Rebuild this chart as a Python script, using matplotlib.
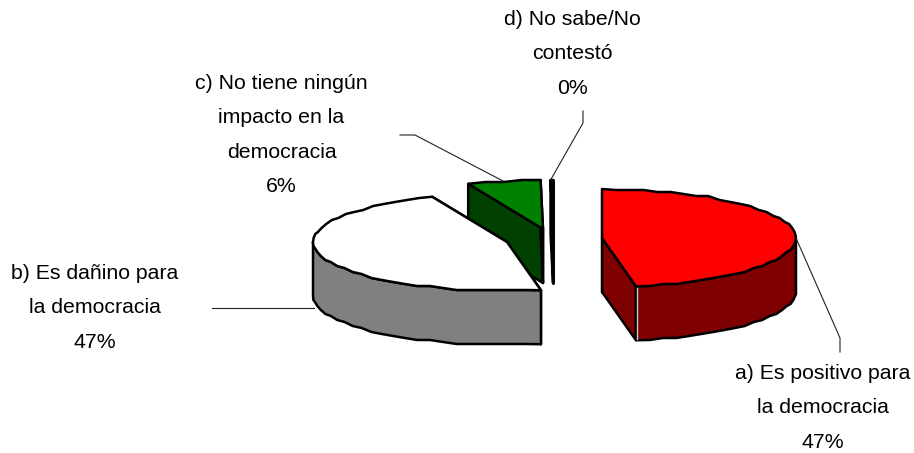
import numpy as np
import matplotlib
matplotlib.use("Agg")
import matplotlib.pyplot as plt

categories = ["a) Es positivo para\nla democracia", "b) Es dañino para\nla democracia",
              "c) No tiene ningún\nimpacto en la\ndemocracia", "d) No sabe/No\ncontestó"]
values = [47.2, 46.5, 6.1, 0.2]
percent_labels = ["47%", "47%", "6%", "0%"]

top_colors = ["#ff0000", "#ffffff", "#008000", "#000000"]
side_colors = ["#7f0000", "#808080", "#004000", "#000000"]
centers = [(602, 238), (507, 242), (543, 229), (553, 229)]
label_pos = [(823, 364), (95, 264), (281.5, 74), (572.5, 10)]
leaders = [[(796, 238), (840, 338), (840, 352)],
           [(212, 308), (314, 308)],
           [(400, 135), (415, 135), (503, 181)],
           [(583, 111), (583, 123), (550, 181)]]
RX, RY, DEPTH = 194, 49, 54

plt.rcParams["font.family"] = ["Liberation Sans", "DejaVu Sans"]
fig = plt.figure(figsize=(9.14, 4.53), dpi=100)
ax = fig.add_axes([0, 0, 1, 1])
ax.set_xlim(0, 914)
ax.set_ylim(453, 0)
ax.axis("off")

fracs = np.array(values) / sum(values)
ends = np.cumsum(fracs) * 2 * np.pi
starts = ends - fracs * 2 * np.pi


def arc(c, a0, a1):
    n = max(2, int((a1 - a0) / 0.07))
    t = np.linspace(a0, a1, n)
    x = c[0] + RX * np.sin(t)
    y = c[1] - RY * np.cos(t)
    # the reference outline is a polygon on a rough grid
    y[1:-1] = np.round(y[1:-1] / 2) * 2
    return x, y, t


def draw_slice(i):
    c = centers[i]
    x, y, t = arc(c, starts[i], ends[i])
    kw = dict(edgecolor="black", linewidth=1.8, joinstyle="round")
    for ex, ey in ((x[0], y[0]), (x[-1], y[-1])):
        ax.fill([c[0], ex, ex, c[0]], [c[1], ey, ey + DEPTH, c[1] + DEPTH],
                facecolor=side_colors[i], **kw)
    front = np.cos(t) <= 0.02
    if front.any():
        fx, fy = x[front], y[front]
        ax.fill(np.r_[fx, fx[::-1]], np.r_[fy, fy[::-1] + DEPTH],
                facecolor=side_colors[i], **kw)
    ax.fill(np.r_[c[0], x], np.r_[c[1], y], facecolor=top_colors[i], **kw)
    if i == 0:
        ax.plot([x[-1] + 1.5, x[-1] + 1.5], [y[-1] + 2, y[-1] + DEPTH - 1],
                color="#cccccc", lw=1.0)


for i in (3, 2, 1, 0):
    draw_slice(i)

for i, pts in enumerate(leaders):
    px, py = zip(*pts)
    ax.plot(px, py, color="#222222", lw=0.8)
    x0, y0 = label_pos[i]
    ax.text(x0, y0, categories[i] + "\n" + percent_labels[i], ha="center", va="top",
            ma="center", fontsize=15.3, color="black", linespacing=2.03)

fig.savefig("out.png", dpi=100)
